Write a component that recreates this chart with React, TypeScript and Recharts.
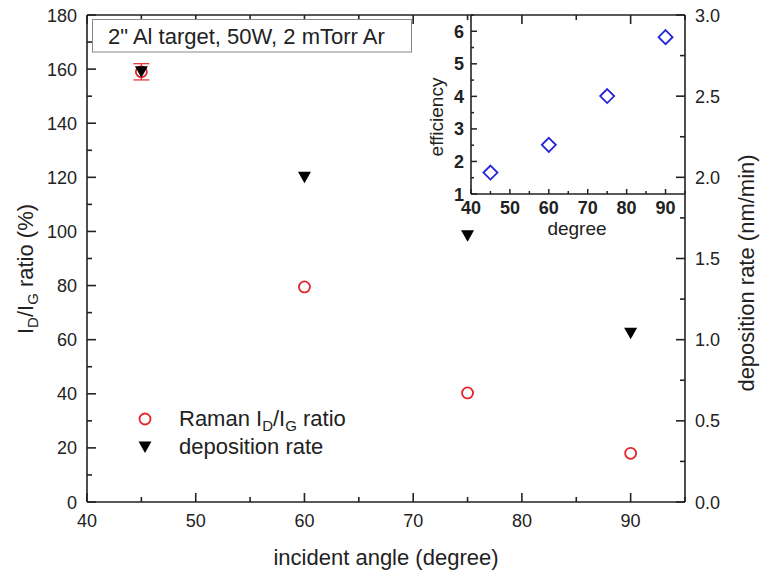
import { ScatterChart, Scatter, XAxis, YAxis, ErrorBar } from "recharts";

const FONT = "'Liberation Sans', Arial, Helvetica, sans-serif";
const AXIS = { stroke: "#222", strokeWidth: 1.6 };
const RED = "#e3242b";
const BLUE = "#2323d8";

// incident angle (degree)
const angles = [45, 60, 75, 90];
// Raman ID/IG ratio (%), left axis
const ramanRatio = [159, 79.5, 40.3, 18];
const ramanErr = [3, 0, 0, 0];
// deposition rate (nm/min), right axis
const depositionRate = [2.65, 2.0, 1.64, 1.04];
// inset: efficiency vs degree
const efficiency = [1.66, 2.51, 4.01, 5.82];

const xTicks = [40, 45, 50, 55, 60, 65, 70, 75, 80, 85, 90, 95];
const leftTicks = [0, 10, 20, 30, 40, 50, 60, 70, 80, 90, 100, 110, 120, 130, 140, 150, 160, 170, 180];
const rightTicks = [0, 0.25, 0.5, 0.75, 1, 1.25, 1.5, 1.75, 2, 2.25, 2.5, 2.75, 3];
const insetYTicks = [1, 1.5, 2, 2.5, 3, 3.5, 4, 4.5, 5, 5.5, 6, 6.5];

const ramanData = angles.map((x, i) => ({ x, y: ramanRatio[i], err: ramanErr[i] }));
const rateData = angles.map((x, i) => ({ x, y: depositionRate[i] }));
const effData = angles.map((x, i) => ({ x, y: efficiency[i] }));

const isInt = (v: number, step: number) => Math.abs(v / step - Math.round(v / step)) < 1e-6;

// ticks point into the plot; labels only on major ticks
const BottomTick = (p: any) => {
  const v = p.payload.value;
  const major = isInt(v, 10);
  return (
    <g>
      <line x1={p.x} x2={p.x} y1={p.y} y2={p.y - (major ? 9 : 5)} stroke="#222" strokeWidth={1.6} />
      {major && (
        <text x={p.x} y={p.y + 25} textAnchor="middle" fontSize={18} fontFamily={FONT} fill="#222">
          {v}
        </text>
      )}
    </g>
  );
};

const TopTick = (p: any) => {
  const major = isInt(p.payload.value, 10);
  return (
    <g>
      <line x1={p.x} x2={p.x} y1={p.y} y2={p.y + (major ? 9 : 5)} stroke="#222" strokeWidth={1.6} />
    </g>
  );
};

const LeftTick = (p: any) => {
  const v = p.payload.value;
  const major = isInt(v, 20);
  return (
    <g>
      <line x1={p.x} x2={p.x + (major ? 9 : 5)} y1={p.y} y2={p.y} stroke="#222" strokeWidth={1.6} />
      {major && (
        <text x={p.x - 10} y={p.y + 6.5} textAnchor="end" fontSize={18} fontFamily={FONT} fill="#222">
          {v}
        </text>
      )}
    </g>
  );
};

const RightTick = (p: any) => {
  const v = p.payload.value;
  const major = isInt(v, 0.5);
  return (
    <g>
      <line x1={p.x} x2={p.x - (major ? 9 : 5)} y1={p.y} y2={p.y} stroke="#222" strokeWidth={1.6} />
      {major && (
        <text x={p.x + 10} y={p.y + 6.5} textAnchor="start" fontSize={18} fontFamily={FONT} fill="#222">
          {v.toFixed(1)}
        </text>
      )}
    </g>
  );
};

const InsetBottomTick = (p: any) => {
  const v = p.payload.value;
  const major = isInt(v, 10);
  return (
    <g>
      <line x1={p.x} x2={p.x} y1={p.y} y2={p.y - (major ? 5 : 3)} stroke="#222" strokeWidth={1.5} />
      {major && (
        <text x={p.x} y={p.y + 20} textAnchor="middle" fontSize={18} fontWeight="bold" fontFamily={FONT} fill="#222">
          {v}
        </text>
      )}
    </g>
  );
};

const InsetLeftTick = (p: any) => {
  const v = p.payload.value;
  const major = isInt(v, 1);
  return (
    <g>
      <line x1={p.x} x2={p.x + (major ? 6 : 3)} y1={p.y} y2={p.y} stroke="#222" strokeWidth={1.5} />
      {major && (
        <text x={p.x - 7} y={p.y + 6.5} textAnchor="end" fontSize={18} fontWeight="bold" fontFamily={FONT} fill="#222">
          {v}
        </text>
      )}
    </g>
  );
};

const OpenCircle = (p: any) => (
  <circle cx={p.cx} cy={p.cy} r={5.5} fill="none" stroke={RED} strokeWidth={1.8} />
);

const DownTriangle = (p: any) => (
  <polygon
    points={`${p.cx - 6.5},${p.cy - 5.5} ${p.cx + 6.5},${p.cy - 5.5} ${p.cx},${p.cy + 6}`}
    fill="#000"
  />
);

const OpenDiamond = (p: any) => (
  <polygon
    points={`${p.cx},${p.cy - 7} ${p.cx + 7},${p.cy} ${p.cx},${p.cy + 7} ${p.cx - 7},${p.cy}`}
    fill="none"
    stroke={BLUE}
    strokeWidth={1.8}
  />
);

const NoShape = () => <g />;

export default function App() {
  return (
    <div style={{ position: "absolute", left: 0, top: 0, width: 760, height: 572, background: "#fff" }}>
      <div style={{ position: "absolute", left: 0, top: 0 }}>
        <ScatterChart width={760} height={572} margin={{ top: 14, right: 15, bottom: 30, left: 27 }}>
          <XAxis
            xAxisId="bottom"
            type="number"
            dataKey="x"
            domain={[40, 95]}
            ticks={xTicks}
            interval={0}
            height={40}
            tickSize={0}
            tickMargin={0}
            tick={BottomTick}
            tickLine={false}
            axisLine={AXIS}
          />
          <XAxis
            xAxisId="top"
            orientation="top"
            type="number"
            dataKey="x"
            domain={[40, 95]}
            ticks={xTicks}
            interval={0}
            height={1}
            tickSize={0}
            tickMargin={0}
            tick={TopTick}
            tickLine={false}
            axisLine={AXIS}
          />
          <YAxis
            yAxisId="left"
            type="number"
            dataKey="y"
            domain={[0, 180]}
            ticks={leftTicks}
            interval={0}
            width={60}
            tickSize={0}
            tickMargin={0}
            tick={LeftTick}
            tickLine={false}
            axisLine={AXIS}
          />
          <YAxis
            yAxisId="right"
            orientation="right"
            type="number"
            dataKey="y"
            domain={[0, 3]}
            ticks={rightTicks}
            interval={0}
            width={60}
            tickSize={0}
            tickMargin={0}
            tick={RightTick}
            tickLine={false}
            axisLine={AXIS}
          />
          <Scatter
            name="Raman ID/IG ratio"
            data={ramanData}
            xAxisId="bottom"
            yAxisId="left"
            shape={OpenCircle}
            isAnimationActive={false}
          >
            <ErrorBar dataKey="err" direction="y" width={8} stroke={RED} strokeWidth={1.2} isAnimationActive={false} />
          </Scatter>
          <Scatter
            name="deposition rate"
            data={rateData}
            xAxisId="bottom"
            yAxisId="right"
            shape={DownTriangle}
            isAnimationActive={false}
          />
          {/* keeps the top frame axis bound to a series so its ticks draw */}
          <Scatter data={rateData} xAxisId="top" yAxisId="right" shape={NoShape} isAnimationActive={false} />
        </ScatterChart>
      </div>

      {/* inset: efficiency vs degree */}
      <div style={{ position: "absolute", left: 400, top: 0 }}>
        <ScatterChart width={300} height={250} margin={{ top: 15, right: 15, bottom: 16, left: 31 }}>
          <XAxis
            type="number"
            dataKey="x"
            domain={[40, 95]}
            ticks={xTicks}
            interval={0}
            height={40}
            tickSize={0}
            tickMargin={0}
            tick={InsetBottomTick}
            tickLine={false}
            axisLine={AXIS}
          />
          <YAxis
            type="number"
            dataKey="y"
            domain={[1, 6.5]}
            ticks={insetYTicks}
            interval={0}
            width={40}
            tickSize={0}
            tickMargin={0}
            tick={InsetLeftTick}
            tickLine={false}
            axisLine={AXIS}
          />
          <Scatter name="efficiency" data={effData} shape={OpenDiamond} isAnimationActive={false} />
        </ScatterChart>
      </div>

      {/* titles, annotation box and legend */}
      <svg
        width={760}
        height={572}
        style={{ position: "absolute", left: 0, top: 0, pointerEvents: "none" }}
        fontFamily={FONT}
        fill="#222"
      >
        <rect x={92.5} y={19.5} width={319} height={32.5} fill="#fff" stroke="#888" strokeWidth={1} />
        <text x={108} y={44} fontSize={22}>
          2" Al target, 50W, 2 mTorr Ar
        </text>

        <text x={386} y={565} fontSize={22} textAnchor="middle">
          incident angle (degree)
        </text>
        <text transform="translate(33,269) rotate(-90)" fontSize={22} textAnchor="middle">
          I<tspan dy={5} fontSize={15}>D</tspan>
          <tspan dy={-5}>/I</tspan>
          <tspan dy={5} fontSize={15}>G</tspan>
          <tspan dy={-5}> ratio (%)</tspan>
        </text>
        <text transform="translate(754,273) rotate(-90)" fontSize={22} textAnchor="middle">
          deposition rate (nm/min)
        </text>

        <text transform="translate(443,117) rotate(-90)" fontSize={19} textAnchor="middle">
          efficiency
        </text>
        <text x={577} y={235} fontSize={19} textAnchor="middle">
          degree
        </text>

        <circle cx={145} cy={419} r={5.5} fill="none" stroke={RED} strokeWidth={1.8} />
        <text x={179} y={426} fontSize={22}>
          Raman I<tspan dy={5} fontSize={15}>D</tspan>
          <tspan dy={-5}>/I</tspan>
          <tspan dy={5} fontSize={15}>G</tspan>
          <tspan dy={-5}> ratio</tspan>
        </text>
        <polygon points="138.5,441.5 151.5,441.5 145,453" fill="#000" />
        <text x={179} y={454} fontSize={22}>
          deposition rate
        </text>
      </svg>
    </div>
  );
}
